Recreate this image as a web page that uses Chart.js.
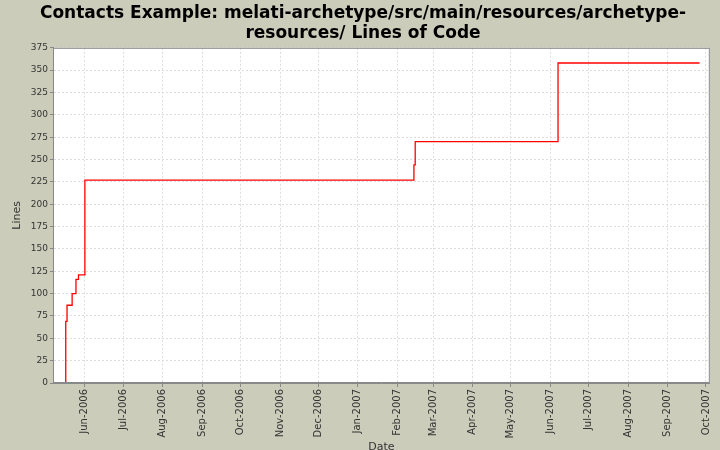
<!DOCTYPE html>
<html>
<head>
<meta charset="utf-8">
<script src="https://cdn.jsdelivr.net/npm/chart.js@4.4.0/dist/chart.umd.min.js"></script>
<style>
html, body { margin: 0; padding: 0; background: #ccccbb; }
</style>
</head>
<body>
<canvas id="canvas" width="720" height="450"></canvas>
<script>
// commit dates and line counts
var dates = ['2006-05-17', '2006-05-17', '2006-05-18', '2006-05-22', '2006-05-25',
             '2006-05-27', '2006-06-01', '2007-02-14', '2007-02-15', '2007-06-07', '2007-09-26'];
var lineCounts = [0, 69, 87, 100, 116, 121, 227, 244, 270, 358, 358];

var tickDates = ['2006-06-01', '2006-07-01', '2006-08-01', '2006-09-01', '2006-10-01',
                 '2006-11-01', '2006-12-01', '2007-01-01', '2007-02-01', '2007-03-01',
                 '2007-04-01', '2007-05-01', '2007-06-01', '2007-07-01', '2007-08-01',
                 '2007-09-01', '2007-10-01'];
var monthNames = ['Jan', 'Feb', 'Mar', 'Apr', 'May', 'Jun', 'Jul', 'Aug', 'Sep', 'Oct', 'Nov', 'Dec'];

function toTime(s) {
    var p = s.split('-');
    return Date.UTC(+p[0], +p[1] - 1, +p[2]);
}
function monthLabel(v) {
    var d = new Date(v);
    return monthNames[d.getUTCMonth()] + '-' + d.getUTCFullYear();
}

var points = dates.map(function (d, i) { return { x: toTime(d), y: lineCounts[i] }; });

// white plot area and grey frame, like the old jfreechart look
var plotFrame = {
    id: 'plotFrame',
    beforeDraw: function (chart) {
        var a = chart.chartArea, c = chart.ctx;
        c.save();
        c.fillStyle = '#ffffff';
        c.fillRect(a.left, a.top, a.right - a.left, a.bottom - a.top);
        c.restore();
    },
    afterDraw: function (chart) {
        var a = chart.chartArea, c = chart.ctx;
        c.save();
        c.strokeStyle = '#888888';
        c.lineWidth = 1;
        c.strokeRect(a.left + 0.5, a.top + 0.5, a.right - a.left - 1, a.bottom - a.top - 1);
        c.restore();
    }
};

var config = {
    type: 'line',
    data: {
        datasets: [{
            label: 'Lines of Code',
            data: points,
            borderColor: '#ff0000',
            borderWidth: 1.3,
            pointRadius: 0,
            stepped: true,
            fill: false
        }]
    },
    plugins: [plotFrame],
    options: {
        responsive: false,
        animation: false,
        layout: { padding: { left: 10, right: 4, top: 0, bottom: 0 } },
        plugins: {
            legend: { display: false },
            tooltip: { enabled: false },
            title: {
                display: true,
                text: ['Contacts Example: melati-archetype/src/main/resources/archetype-',
                       'resources/ Lines of Code'],
                color: '#000000',
                font: { family: 'DejaVu Sans', size: 17, weight: 'bold', lineHeight: 1.2 },
                padding: { top: 3, bottom: 4 }
            }
        },
        scales: {
            x: {
                type: 'linear',
                min: toTime('2006-05-07'),
                max: toTime('2007-10-04'),
                afterBuildTicks: function (scale) {
                    scale.ticks = tickDates.map(function (d) { return { value: toTime(d) }; });
                },
                afterFit: function (scale) { scale.height = 67; },
                ticks: {
                    autoSkip: false,
                    minRotation: 90,
                    maxRotation: 90,
                    padding: 2,
                    color: '#333333',
                    font: { family: 'DejaVu Sans', size: 10 },
                    callback: function (v) { return monthLabel(v); }
                },
                grid: { color: '#dddddd', tickColor: '#888888', tickLength: 4 },
                border: { color: '#888888', dash: [2, 2] },
                title: {
                    display: true,
                    text: 'Date',
                    color: '#333333',
                    font: { family: 'DejaVu Sans', size: 11 },
                    padding: { top: 0, bottom: -4 }
                }
            },
            y: {
                min: 0,
                max: 375,
                afterFit: function (scale) { scale.width = 43; },
                ticks: {
                    stepSize: 25,
                    padding: 2,
                    color: '#333333',
                    font: { family: 'DejaVu Sans', size: 9 }
                },
                grid: { color: '#dddddd', tickColor: '#888888', tickLength: 3 },
                border: { color: '#888888', dash: [2, 2] },
                title: {
                    display: true,
                    text: 'Lines',
                    color: '#333333',
                    font: { family: 'DejaVu Sans', size: 11 },
                    padding: { top: 1, bottom: 2 }
                }
            }
        }
    }
};

var context = document.getElementById('canvas').getContext('2d');
window.myLine = new Chart(context, config);
</script>
</body>
</html>
